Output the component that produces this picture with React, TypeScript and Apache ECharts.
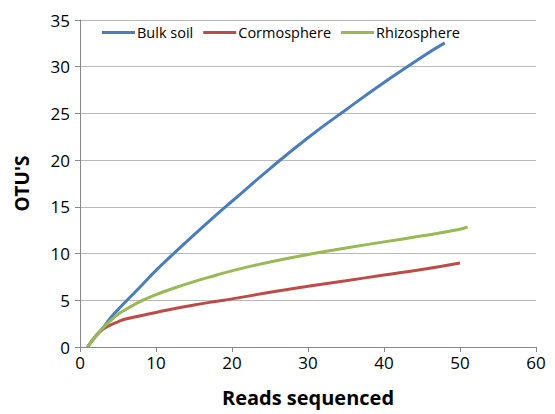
import React, { useEffect, useRef } from "react";
import * as echarts from "echarts";

const bulkX = [1, 2, 3, 4, 5, 6, 8, 10, 12, 15, 18, 20, 25, 30, 35, 40, 45, 48];
const bulkY = [0, 1.1, 2.0, 3.1, 4.0, 4.85, 6.5, 8.2, 9.75, 12.0, 14.2, 15.6, 19.1, 22.4, 25.4, 28.3, 31.05, 32.55];

const rhizoX = [1, 2, 3, 4, 5, 6, 8, 10, 12, 15, 18, 20, 25, 30, 35, 40, 45, 50, 51];
const rhizoY = [0, 1.1, 2.0, 2.8, 3.5, 4.0, 4.9, 5.6, 6.2, 7.0, 7.7, 8.15, 9.1, 9.9, 10.6, 11.25, 11.9, 12.6, 12.85];

const cormoX = [1, 2, 3, 4, 5, 6, 8, 10, 12, 15, 18, 20, 25, 30, 35, 40, 45, 50];
const cormoY = [0, 1.1, 1.9, 2.35, 2.7, 3.0, 3.35, 3.7, 4.05, 4.5, 4.9, 5.15, 5.85, 6.5, 7.1, 7.7, 8.3, 9.0];

const seriesNames = ["Bulk soil", "Cormosphere", "Rhizosphere"];
const colors = ["#4a7ebb", "#be4b48", "#98b954"];
const xAxisName = "Reads sequenced";
const yAxisName = "OTU'S";

const zip = (xs: number[], ys: number[]) => xs.map((x, i) => [x, ys[i]]);

export default function App() {
  const ref = useRef<HTMLDivElement>(null);
  useEffect(() => {
    if (!ref.current) return;
    const chart = echarts.init(ref.current, null, { renderer: "svg" });
    const font = "'Open Sans', 'DejaVu Sans', sans-serif";
    const datas = [zip(bulkX, bulkY), zip(cormoX, cormoY), zip(rhizoX, rhizoY)];
    chart.setOption({
      animation: false,
      backgroundColor: "#ffffff",
      textStyle: { fontFamily: font },
      grid: { left: 80, right: 19, top: 20, bottom: 67 },
      legend: {
        left: 97,
        top: 20,
        icon: "rect",
        itemWidth: 33,
        itemHeight: 3,
        itemGap: 10,
        textStyle: { fontSize: 14.5, color: "#000", fontFamily: font, padding: [0, 0, 0, -3] },
        data: seriesNames,
      },
      xAxis: {
        type: "value",
        min: 0,
        max: 60,
        interval: 10,
        name: xAxisName,
        nameLocation: "middle",
        nameGap: 40,
        nameTextStyle: { fontSize: 20, fontWeight: "bold", color: "#000", fontFamily: font },
        axisLine: { lineStyle: { color: "#888", width: 1 } },
        axisTick: { show: true, length: 5, lineStyle: { color: "#888" } },
        axisLabel: { fontSize: 17, color: "#000", margin: 7 },
        splitLine: { show: false },
      },
      yAxis: {
        type: "value",
        min: 0,
        max: 35,
        interval: 5,
        name: yAxisName,
        nameLocation: "middle",
        nameGap: 49,
        nameRotate: 90,
        nameTextStyle: { fontSize: 19, fontWeight: "bold", color: "#000", fontFamily: font },
        axisLine: { show: true, lineStyle: { color: "#888", width: 1 } },
        axisTick: { show: true, length: 5, lineStyle: { color: "#888" } },
        axisLabel: { fontSize: 17, color: "#000", margin: 10 },
        splitLine: { show: true, lineStyle: { color: "#b8b8b8", width: 1 } },
      },
      series: seriesNames.map((name, i) => ({
        name,
        type: "line",
        data: datas[i],
        smooth: true,
        showSymbol: false,
        symbol: "none",
        lineStyle: { color: colors[i], width: 3 },
        itemStyle: { color: colors[i] },
      })),
    });
    return () => chart.dispose();
  }, []);
  return (
    <div
      ref={ref}
      style={{ position: "absolute", left: 0, top: 0, width: 555, height: 414 }}
    />
  );
}
